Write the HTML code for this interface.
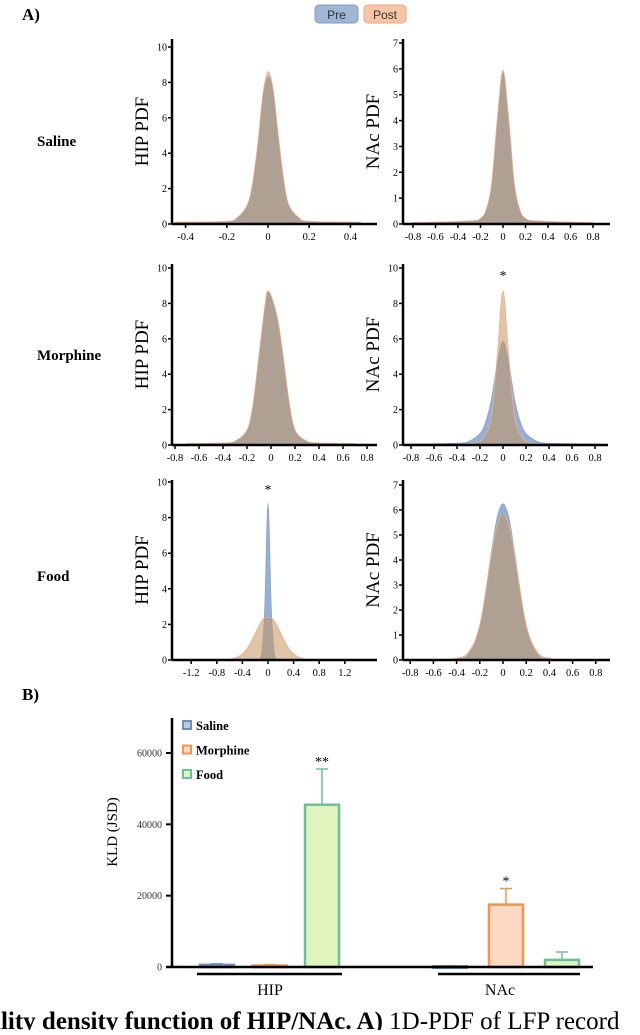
<!DOCTYPE html>
<html><head><meta charset="utf-8">
<style>
body{margin:0;background:#fff;width:640px;height:1030px;overflow:hidden;font-family:"Liberation Serif",serif}
svg text{font-family:"Liberation Serif",serif}
</style></head>
<body>
<svg id="fig" width="640" height="1030" viewBox="0 0 640 1030" xmlns="http://www.w3.org/2000/svg">
<rect x="0" y="0" width="640" height="1030" fill="#fff"/>
<text x="22" y="20" font-size="17" font-weight="bold">A)</text>
<g>
<rect x="315" y="5" width="43" height="18" rx="4" fill="#9fb6d4" stroke="#7f9dc4"/>
<text x="336.5" y="19" font-size="12" text-anchor="middle" fill="#333" style="font-family:'Liberation Sans',sans-serif">Pre</text>
<rect x="364" y="5" width="42" height="18" rx="4" fill="#f6c5a8" stroke="#f0a880"/>
<text x="385" y="19" font-size="12" text-anchor="middle" fill="#333" style="font-family:'Liberation Sans',sans-serif">Post</text>
</g>
<text x="37" y="146" font-size="15" font-weight="bold">Saline</text>
<text x="37" y="360" font-size="15" font-weight="bold">Morphine</text>
<text x="37" y="581" font-size="15" font-weight="bold">Food</text>
<text x="22" y="700" font-size="17" font-weight="bold">B)</text>
<g id="pdfs"></g>
<g id="bars"></g>
<text x="-6" y="1029" font-size="25"><tspan font-weight="bold">ility density function of HIP/NAc. A)</tspan> 1D-PDF of LFP record</text>
</svg>
<script>
// ---- PDF panel data ----
const salineHipX = [-0.45,-0.2,-0.15,-0.1,-0.075,-0.05,-0.025,0,0.025,0.05,0.075,0.1,0.15,0.2,0.45];
const salineHipPre = [0.1,0.15,0.35,1.0,2.2,4.3,7.0,8.3,7.4,4.9,2.5,1.0,0.35,0.15,0.1];
const salineHipPost = [0.1,0.15,0.35,1.1,2.3,4.5,7.3,8.6,7.6,5.0,2.6,1.1,0.35,0.15,0.1];
const salineNacX = [-0.8,-0.3,-0.2,-0.15,-0.1,-0.05,0,0.05,0.1,0.15,0.2,0.3,0.8];
const salineNacPre = [0.05,0.1,0.2,0.5,1.5,4.0,5.85,4.0,1.5,0.5,0.2,0.1,0.05];
const salineNacPost = [0.05,0.12,0.22,0.55,1.6,4.1,5.95,4.1,1.6,0.55,0.22,0.12,0.05];
const morphHipX = [-0.7,-0.4,-0.3,-0.2,-0.15,-0.1,-0.05,-0.02,0.05,0.1,0.15,0.2,0.3,0.4,0.7];
const morphHipPre = [0.05,0.1,0.2,0.8,2.2,5.0,7.8,8.6,7.2,5.0,2.4,0.8,0.2,0.1,0.05];
const morphHipPost = [0.08,0.12,0.22,0.85,2.3,5.1,7.9,8.7,7.3,5.1,2.5,0.85,0.22,0.12,0.08];
const morphNacX = [-0.85,-0.4,-0.3,-0.2,-0.15,-0.1,-0.05,0,0.05,0.1,0.15,0.2,0.3,0.4,0.85];
const morphNacPre = [0.05,0.1,0.2,0.65,1.3,2.6,4.6,5.85,4.6,2.6,1.3,0.65,0.2,0.1,0.05];
const morphNacPost = [0.02,0.03,0.06,0.2,0.6,1.6,5.0,8.7,5.0,1.6,0.6,0.2,0.06,0.03,0.02];
const foodHipX = [-1.2,-0.6,-0.4,-0.3,-0.2,-0.1,-0.05,0,0.05,0.1,0.2,0.3,0.4,0.6,1.2];
const foodHipPre = [0,0,0,0,0.02,0.3,3.0,8.8,3.0,0.3,0.02,0,0,0,0];
const foodHipPost = [0,0.05,0.35,0.8,1.5,2.2,2.35,2.4,2.35,2.2,1.5,0.8,0.35,0.05,0];
const foodNacX = [-0.8,-0.5,-0.4,-0.3,-0.2,-0.1,-0.05,0,0.05,0.1,0.2,0.3,0.4,0.5,0.8];
const foodNacPre = [0,0.01,0.05,0.2,1.3,4.3,5.7,6.25,5.7,4.3,1.3,0.2,0.05,0.01,0];
const foodNacPost = [0,0.02,0.07,0.3,1.4,4.2,5.4,5.85,5.4,4.2,1.4,0.3,0.07,0.02,0];
const hipTicks10 = [0,2,4,6,8,10];
const nacTicks7 = [0,1,2,3,4,5,6,7];
const xTicksSal = ['-0.4','-0.2','0','0.2','0.4'];
const xTicksWide = ['-0.8','-0.6','-0.4','-0.2','0','0.2','0.4','0.6','0.8'];
const xTicksFood = ['-1.2','-0.8','-0.4','0','0.4','0.8','1.2'];

const NS='http://www.w3.org/2000/svg';
function mk(tag,attrs,parent){const e=document.createElementNS(NS,tag);for(const k in attrs)e.setAttribute(k,attrs[k]);parent.appendChild(e);return e;}

function smoothPath(pts){
  let d='M'+pts[0][0]+','+pts[0][1];
  for(let i=0;i<pts.length-1;i++){
    const p0=pts[Math.max(0,i-1)],p1=pts[i],p2=pts[i+1],p3=pts[Math.min(pts.length-1,i+2)];
    const c1=[p1[0]+(p2[0]-p0[0])/6,p1[1]+(p2[1]-p0[1])/6];
    const c2=[p2[0]-(p3[0]-p1[0])/6,p2[1]-(p3[1]-p1[1])/6];
    d+=' C'+c1[0]+','+c1[1]+' '+c2[0]+','+c2[1]+' '+p2[0]+','+p2[1];
  }
  return d;
}

const pdfRoot=document.getElementById('pdfs');
function panel(name,ax,top,y0,ymax,yTopPx,x0px,pxPerUnit,axEnd,xs,pre,post,yTicks,xTicks,ylab,star){
  const g=mk('g',{},pdfRoot);
  
  
  const sy=v=>y0-(v/ymax)*(y0-yTopPx);
  const sx=v=>x0px+v*pxPerUnit;
  [[pre,'#96afd7',1,'#86a2cc','pre'],[post,'#c5945d',0.55,'#f0b08c','post']].forEach(([arr,col,op,sc,nm])=>{
    const pts=xs.map((x,i)=>[sx(x),sy(arr[i])]);
    const d=smoothPath(pts)+' L'+sx(xs[xs.length-1])+','+y0+' L'+sx(xs[0])+','+y0+' Z';
    const p=mk('path',{d:d,fill:col,'fill-opacity':op,stroke:sc,'stroke-width':0.8},g);
    
    
  });
  const yl=mk('line',{x1:ax,y1:top,x2:ax,y2:y0,stroke:'#000','stroke-width':2.5},g);
  
  
  const xl=mk('line',{x1:ax,y1:y0,x2:axEnd,y2:y0,stroke:'#000','stroke-width':2.5},g);
  
  
  yTicks.forEach(t=>{
    mk('line',{x1:ax-4,y1:sy(t),x2:ax,y2:sy(t),stroke:'#000','stroke-width':1.5},g);
    const tx=mk('text',{x:ax-5,y:sy(t)+3.5,'font-size':10,'text-anchor':'end'},g);
    tx.textContent=t;
    
    
  });
  xTicks.forEach(t=>{
    const v=parseFloat(t);
    mk('line',{x1:sx(v),y1:y0,x2:sx(v),y2:y0+4,stroke:'#000','stroke-width':1.5},g);
    const tx=mk('text',{x:sx(v),y:y0+16,'font-size':10.5,'text-anchor':'middle'},g);
    tx.textContent=t;
    
    
  });
  const cy=(top+y0)/2;
  const lab=mk('text',{x:ax-24,y:cy,'font-size':19,'text-anchor':'middle',transform:'rotate(-90 '+(ax-24)+' '+cy+')'},g);
  lab.textContent=ylab;
  
  
  if(star){const s=mk('text',{x:sx(0),y:sy(ymax)+12,'font-size':14,'text-anchor':'middle'},g);s.textContent='*';
    
    }
}
panel('saline-hip',172,39,224,10,47,268,206,377,salineHipX,salineHipPre,salineHipPost,hipTicks10,xTicksSal,'HIP PDF',false);
panel('saline-nac',403,39,224,7,43,503,112.5,610,salineNacX,salineNacPre,salineNacPost,nacTicks7,xTicksWide,'NAc PDF',false);
panel('morphine-hip',172,264,445,10,268,271,120,377,morphHipX,morphHipPre,morphHipPost,hipTicks10,xTicksWide,'HIP PDF',false);
panel('morphine-nac',403,264,445,10,268,503,115,608,morphNacX,morphNacPre,morphNacPost,hipTicks10,xTicksWide,'NAc PDF',true);
panel('food-hip',172,480,660,10,482,268,64,377,foodHipX,foodHipPre,foodHipPost,hipTicks10,xTicksFood,'HIP PDF',true);
panel('food-nac',403,480,660,7,485,503,116,610,foodNacX,foodNacPre,foodNacPost,nacTicks7,xTicksWide,'NAc PDF',false);

// ---- Bar chart data ----
const groups = ['HIP','NAc'];
const conditions = ['Saline','Morphine','Food'];
const hipValues = [600,400,45500];
const hipErrors = [900,700,55500];
const nacValues = [200,17500,2000];
const nacErrors = [350,22000,4200];
const kldTicks = [0,20000,40000,60000];
const stars = [['','','**'],['','*','']];

const bars=document.getElementById('bars');
const by0=967, byTop=718, bAx=172, bEnd=593;
const bsy=v=>by0-v*(967-753)/60000;
const strokeCols=['#6f8fb4','#f0954f','#6bbf9a'];
const fillCols=['#bccbe0','#fcd9c2','#e0f5bd'];
const groupStart=[200,433], barStep=[52.5,56], barW=34;
[hipValues,nacValues].forEach((vals,gi)=>{
  const errs=gi===0?hipErrors:nacErrors;
  vals.forEach((v,ci)=>{
    const x=groupStart[gi]+ci*barStep[gi];
    const e=mk('line',{x1:x+barW/2,y1:bsy(v),x2:x+barW/2,y2:bsy(errs[ci]),stroke:strokeCols[ci],'stroke-width':1.5},bars);
    
    
    mk('line',{x1:x+barW/2-6,y1:bsy(errs[ci]),x2:x+barW/2+6,y2:bsy(errs[ci]),stroke:strokeCols[ci],'stroke-width':1.5},bars);
    const r=mk('rect',{x:x,y:bsy(v),width:barW,height:Math.max(by0-bsy(v),1.5),fill:fillCols[ci],stroke:strokeCols[ci],'stroke-width':2.5},bars);
    
    
    if(stars[gi][ci]){const s=mk('text',{x:x+barW/2,y:bsy(errs[ci])-3,'font-size':14,'text-anchor':'middle'},bars);s.textContent=stars[gi][ci];
      
      }
  });
});
const bya=mk('line',{x1:bAx,y1:byTop,x2:bAx,y2:by0,stroke:'#000','stroke-width':2.5},bars);


const bxa=mk('line',{x1:bAx-6,y1:by0,x2:bEnd,y2:by0,stroke:'#000','stroke-width':2.5},bars);


kldTicks.forEach(t=>{
  mk('line',{x1:bAx-6,y1:bsy(t),x2:bAx,y2:bsy(t),stroke:'#000','stroke-width':2},bars);
  const tx=mk('text',{x:bAx-10,y:bsy(t)+3.5,'font-size':10,'text-anchor':'end',fill:'#333'},bars);
  tx.textContent=t;
  
  
});
const ylab=mk('text',{x:117,y:832,'font-size':15,'text-anchor':'middle',transform:'rotate(-90 117 832)'},bars);
ylab.textContent='KLD (JSD)';


[[197,342,270],[438,580,500]].forEach((u,gi)=>{
  const l=mk('line',{x1:u[0],y1:974,x2:u[1],y2:974,stroke:'#000','stroke-width':2.5},bars);
  
  
  const t=mk('text',{x:u[2],y:995,'font-size':16,'text-anchor':'middle'},bars);
  t.textContent=groups[gi];
  
  
});
conditions.forEach((c,ci)=>{
  const y=727+ci*24.5;
  const r=mk('rect',{x:183,y:y-6,width:8,height:8,fill:fillCols[ci],stroke:strokeCols[ci],'stroke-width':2},bars);
  
  
  const t=mk('text',{x:196,y:y+3,'font-size':12.5,'font-weight':'bold'},bars);
  t.textContent=c;
  
  
});
</script>
</body></html>
